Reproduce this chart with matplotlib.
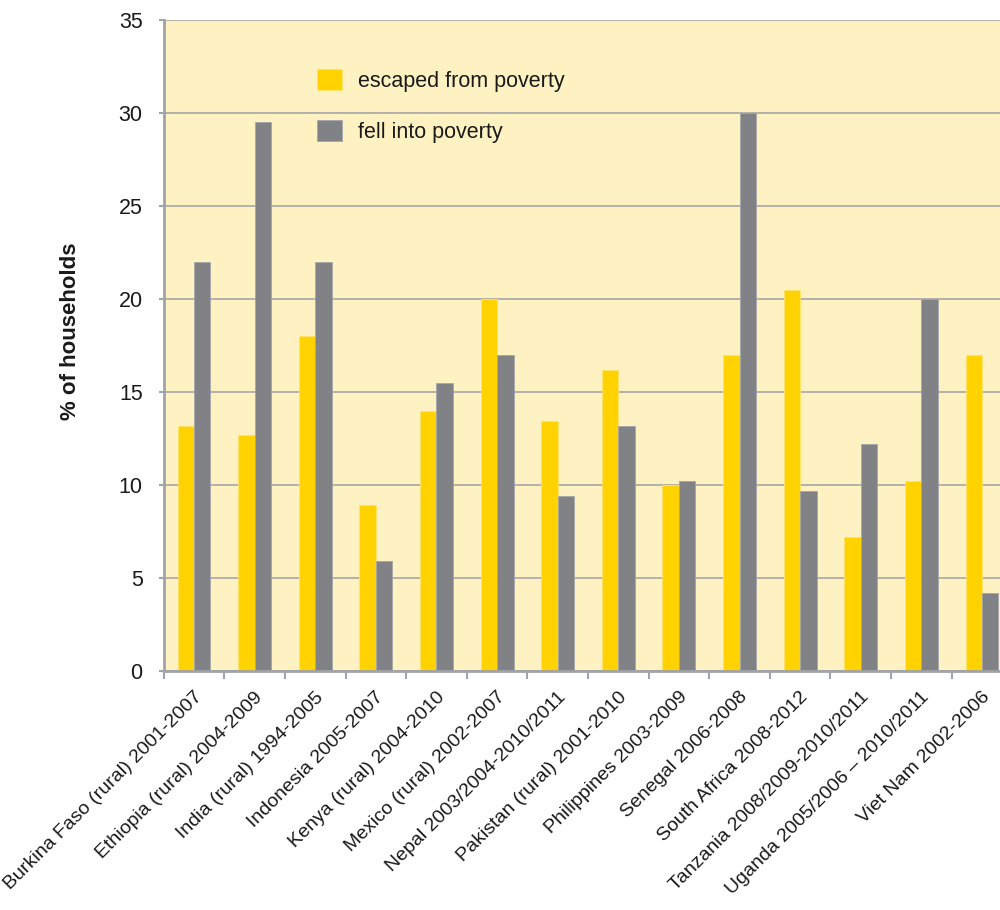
import matplotlib
matplotlib.use("Agg")
import matplotlib.pyplot as plt
import numpy as np
from matplotlib.transforms import ScaledTranslation

plt.rcParams['font.family'] = ['Liberation Sans', 'DejaVu Sans']

categories = [
    "Burkina Faso (rural) 2001-2007",
    "Ethiopia (rural) 2004-2009",
    "India (rural) 1994-2005",
    "Indonesia 2005-2007",
    "Kenya (rural) 2004-2010",
    "Mexico (rural) 2002-2007",
    "Nepal 2003/2004-2010/2011",
    "Pakistan (rural) 2001-2010",
    "Philippines 2003-2009",
    "Senegal 2006-2008",
    "South Africa 2008-2012",
    "Tanzania 2008/2009-2010/2011",
    "Uganda 2005/2006 \u2013 2010/2011",
    "Viet Nam 2002-2006",
]
escaped = [13.2, 12.7, 18.0, 8.9, 14.0, 20.0, 13.45, 16.2, 10.0, 17.0, 20.5, 7.2, 10.2, 17.0]
fell = [22.0, 29.5, 22.0, 5.9, 15.5, 17.0, 9.4, 13.2, 10.2, 30.0, 9.7, 12.2, 20.0, 4.2]
yticks = [0, 5, 10, 15, 20, 25, 30, 35]

YELLOW = '#FFD200'
GREY = '#808285'
BG = '#FFF2C2'
AXCOL = '#A0A4A8'
TXT = '#1a1a1a'

fig = plt.figure(figsize=(10, 9.1), dpi=100)
ax = fig.add_axes([0.1637, 0.2626, 0.8486, 0.7154])
ax.set_facecolor(BG)

x = np.arange(len(categories))
w = 0.272
ax.bar(x - w / 2, escaped, w, color=YELLOW, label='escaped from poverty', zorder=3,
       edgecolor='#FFE36A', linewidth=0.6)
ax.bar(x + w / 2, fell, w, color=GREY, label='fell into poverty', zorder=3,
       edgecolor='#A3A5A8', linewidth=0.6)

ax.set_xlim(-0.5, len(categories) - 0.5)
ax.set_ylim(0, 35)
ax.set_yticks(yticks)
ax.set_yticklabels([str(v) for v in yticks], fontsize=15.5, color=TXT)
ax.yaxis.grid(True, color='#A6A6A6', linewidth=1.2, zorder=0)
ax.set_axisbelow(True)

for s in ['top', 'right']:
    ax.spines[s].set_visible(False)
for s in ['left', 'bottom']:
    ax.spines[s].set_color(AXCOL)
    ax.spines[s].set_linewidth(2)
    ax.spines[s].set_zorder(4)

ax.tick_params(axis='y', length=3.6, width=1.5, color=AXCOL, pad=11.5)
ax.set_xticks(x)
ax.set_xticks(np.arange(-0.5, len(categories), 1.0), minor=True)
ax.tick_params(axis='x', which='major', length=0, pad=17)
ax.tick_params(axis='x', which='minor', length=6, width=1.5, color=AXCOL)
ax.set_xticklabels(categories, rotation=45, ha='right', va='center',
                   rotation_mode='anchor', fontsize=14, color=TXT)
offset = ScaledTranslation(4 / 72, 0, fig.dpi_scale_trans)
for lab in ax.get_xticklabels():
    lab.set_transform(lab.get_transform() + offset)

ax.set_ylabel('% of households', fontsize=16, fontweight='bold', color=TXT)
ax.yaxis.set_label_coords(-0.098, 0.522)

leg = ax.legend(loc='upper left', bbox_to_anchor=(0.1807, 0.925), frameon=False,
                fontsize=15.5, handlelength=1.16, handleheight=1.16,
                handletextpad=0.74, labelspacing=1.3, borderpad=0, borderaxespad=0)
for t in leg.get_texts():
    t.set_color(TXT)

fig.savefig('out.png', dpi=100)
